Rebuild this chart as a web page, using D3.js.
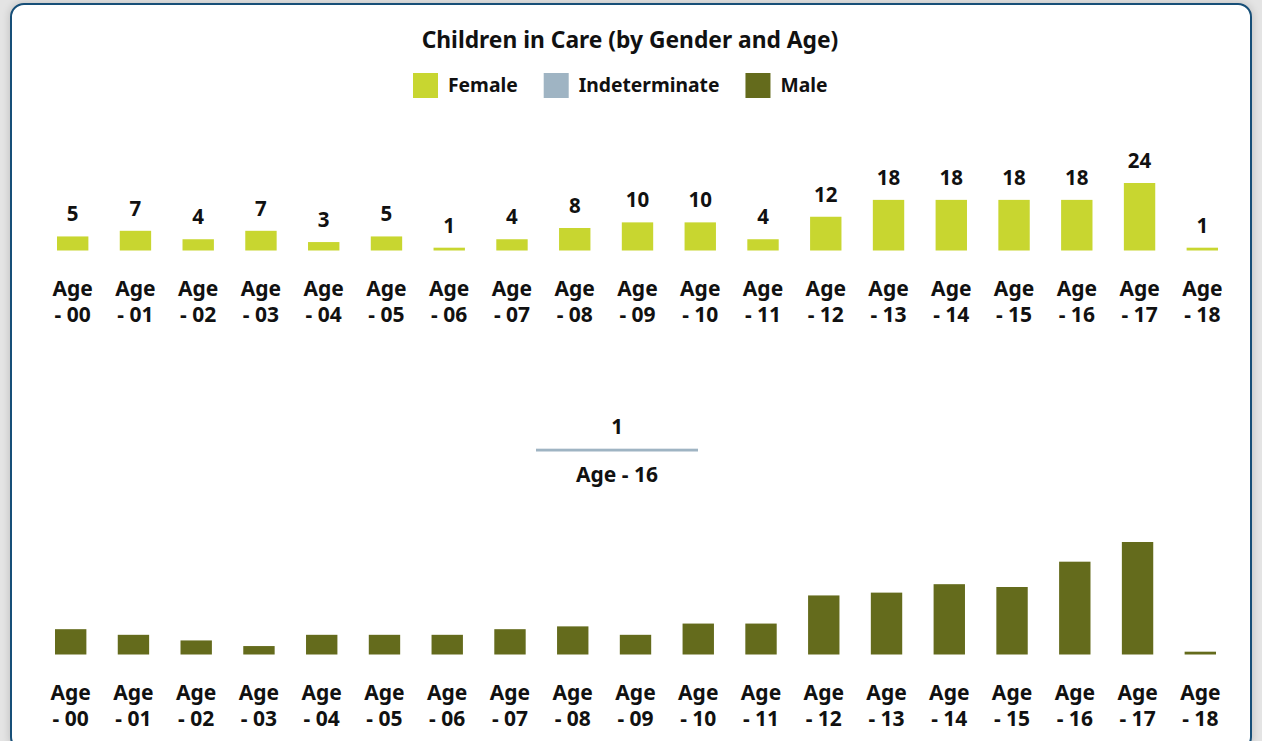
<!DOCTYPE html>
<html>
<head>
<meta charset="utf-8">
<script src="https://cdn.jsdelivr.net/npm/d3@7"></script>
<style>
    body { margin: 0; background: #e4e4e4; overflow: hidden; }
    #card {
        position: absolute; left: 10px; top: 3px;
        width: 1238px; height: 744px;
        background: #fff;
        border: 2px solid #174f78;
        border-radius: 14px;
        box-shadow: 0 0 8px rgba(0,0,0,0.18);
    }
    svg { position: absolute; left: 0; top: 0; }
    text { font-family: "Noto Sans", "Open Sans", sans-serif; font-weight: 700; fill: #111; }
</style>
</head>
<body>
<div id="card"></div>
<svg id="chart" width="1262" height="741"></svg>
<script>
var ages = ["Age - 00", "Age - 01", "Age - 02", "Age - 03", "Age - 04", "Age - 05", "Age - 06",
    "Age - 07", "Age - 08", "Age - 09", "Age - 10", "Age - 11", "Age - 12", "Age - 13",
    "Age - 14", "Age - 15", "Age - 16", "Age - 17", "Age - 18"];
var femaleCounts = [5, 7, 4, 7, 3, 5, 1, 4, 8, 10, 10, 4, 12, 18, 18, 18, 18, 24, 1];
var maleCounts = [9, 7, 5, 3, 7, 7, 7, 9, 10, 7, 11, 11, 21, 22, 25, 24, 33, 40, 1];
var indetAges = ["Age - 16"];
var indetCounts = [1];
var genders = ["Female", "Indeterminate", "Male"];
var genderColors = ["#c8d630", "#9fb4c3", "#646b1c"];

var svg = d3.select("#chart");

svg.append("text")
    .attr("x", 630)
    .attr("y", 48)
    .attr("text-anchor", "middle")
    .style("font-size", "22.8px")
    .text("Children in Care (by Gender and Age)");

// legend
var legend = svg.append("g").attr("transform", "translate(413, 73)");
var lx = 0;
genders.forEach(function (g, i) {
    var item = legend.append("g").attr("transform", "translate(" + lx + ",0)");
    item.append("rect")
        .attr("width", 25)
        .attr("height", 25)
        .attr("fill", genderColors[i]);
    var t = item.append("text")
        .attr("x", 35)
        .attr("y", 19)
        .style("font-size", "19.3px")
        .text(g);
    lx += 35 + t.node().getComputedTextLength() + 26;
});

// shared value scale for all panels
var y = d3.scaleLinear().domain([0, 40]).range([0, 112.5]);

function drawPanel(cats, vals, color, baseY, x0, x1, showValues, wrap) {
    var x = d3.scaleBand()
        .domain(cats)
        .range([x0, x1])
        .paddingInner(0.5)
        .paddingOuter(0);
    if (cats.length == 1) {
        x.paddingInner(0).paddingOuter(0);
    }
    var data = cats.map(function (c, i) { return { key: c, value: vals[i] }; });
    var g = svg.append("g");

    g.selectAll("rect")
        .data(data)
        .enter()
        .append("rect")
        .attr("x", function (d) { return x(d.key); })
        .attr("y", function (d) { return baseY - y(d.value); })
        .attr("width", x.bandwidth())
        .attr("height", function (d) { return y(d.value); })
        .attr("fill", color);

    if (showValues) {
        g.selectAll(".val")
            .data(data)
            .enter()
            .append("text")
            .attr("class", "val")
            .attr("x", function (d) { return x(d.key) + x.bandwidth() / 2; })
            .attr("y", function (d) { return baseY - y(d.value) - 15; })
            .attr("text-anchor", "middle")
            .style("font-size", "20.5px")
            .text(function (d) { return d.value; });
    }

    var labels = g.selectAll(".lbl")
        .data(data)
        .enter()
        .append("text")
        .attr("class", "lbl")
        .attr("text-anchor", "middle")
        .attr("x", function (d) { return x(d.key) + x.bandwidth() / 2; })
        .attr("y", baseY + 45)
        .style("font-size", "21px");
    if (wrap) {
        labels.each(function (d) {
            var parts = d.key.split(" ");
            var el = d3.select(this);
            var cx = el.attr("x");
            el.append("tspan").attr("x", cx).text(parts[0]);
            el.append("tspan").attr("x", cx).attr("dy", 26).text(parts.slice(1).join(" "));
        });
        labels.attr("y", baseY + 45);
    } else {
        labels.attr("y", baseY + 30).text(function (d) { return d.key; });
    }
}

drawPanel(ages, femaleCounts, genderColors[0], 250.5, 57, 1218, true, true);
drawPanel(indetAges, indetCounts, genderColors[1], 451.5, 536, 698, true, false);
drawPanel(ages, maleCounts, genderColors[2], 654.5, 55, 1216, false, true);
</script>
</body>
</html>
